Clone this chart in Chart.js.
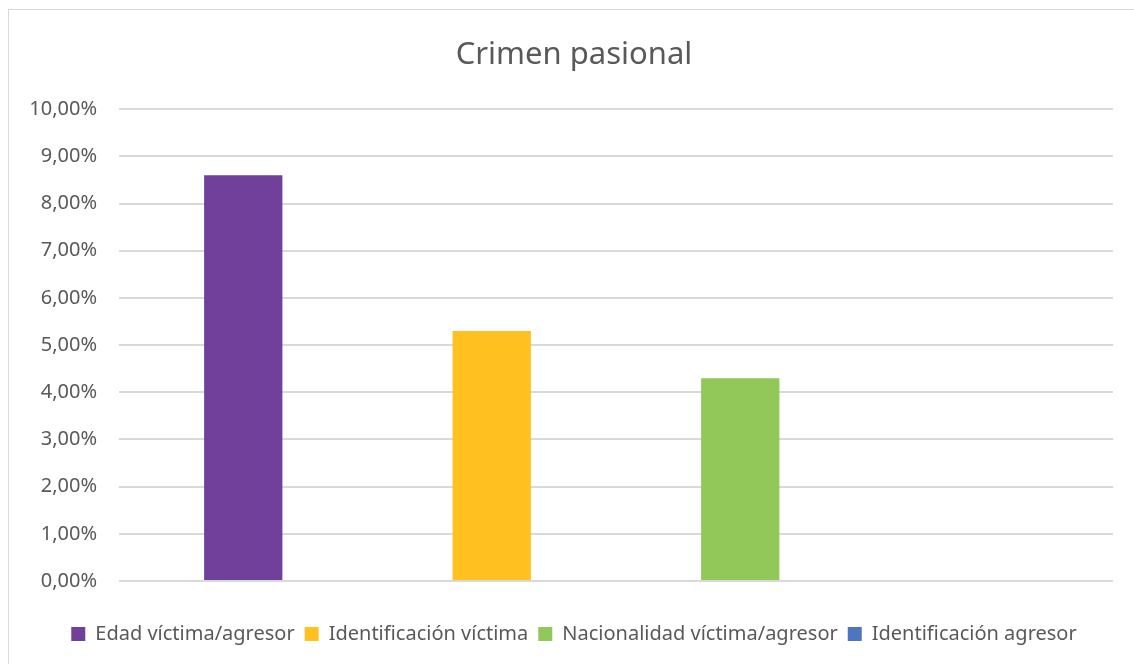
<!DOCTYPE html>
<html lang="es">
<head>
  <meta charset="UTF-8" />
  <title>Crimen pasional</title>
  <script src="https://cdn.jsdelivr.net/npm/chart.js"></script>
  <style>
    html, body { margin: 0; padding: 0; background: #fff; overflow: hidden; }
    .marco {
      position: absolute; left: 8px; top: 9px;
      width: 1132px; height: 664px;
      border: 1px solid #d9d9d9; box-sizing: border-box;
    }
    #grafico { display: block; }
  </style>
</head>
<body>
  <div class="marco">
    <canvas id="grafico" width="1130" height="658"></canvas>
  </div>

  <script>
  // datos
  const categorias = [''];
  const series = ['Edad víctima/agresor', 'Identificación víctima', 'Nacionalidad víctima/agresor', 'Identificación agresor'];
  const valores = [8.6, 5.3, 4.3, 0];
  const colores = ['#70409A', '#FFC020', '#92C85A', '#4E75C0'];
  const ticksY = [0, 1, 2, 3, 4, 5, 6, 7, 8, 9, 10];

  const fuente = "'Noto Sans', 'Open Sans', sans-serif";

  function formatoPct(v) {
    return v.toFixed(2).replace('.', ',') + '%';
  }

  new Chart(document.getElementById('grafico'), {
    type: 'bar',
    data: {
      labels: categorias,
      datasets: series.map((nombre, i) => ({
        label: nombre,
        data: [valores[i]],
        backgroundColor: colores[i],
        borderWidth: 0,
        categoryPercentage: 1,
        barPercentage: 0.315
      }))
    },
    options: {
      responsive: false,
      animation: false,
      layout: { padding: { left: 10, right: 10, top: 0, bottom: 14 } },
      plugins: {
        title: {
          display: true,
          text: 'Crimen pasional',
          color: '#595959',
          font: { family: fuente, size: 31, weight: 'normal' },
          padding: { top: 27, bottom: 35 }
        },
        legend: {
          position: 'bottom',
          labels: {
            color: '#595959',
            font: { family: fuente, size: 20 },
            boxWidth: 14,
            boxHeight: 14,
            padding: 10
          }
        },
        tooltip: { enabled: false }
      },
      scales: {
        x: {
          grid: { display: false },
          border: { display: false },
          ticks: { display: false },
          afterFit: s => { s.height = 33; }
        },
        y: {
          min: 0,
          max: 10,
          afterBuildTicks: axis => { axis.ticks = ticksY.map(v => ({ value: v })); },
          afterFit: s => { s.width = 100; },
          grid: { color: '#d9d9d9', lineWidth: 2, drawTicks: false },
          border: { display: false },
          ticks: {
            color: '#595959',
            font: { family: fuente, size: 20 },
            padding: 22,
            callback: v => formatoPct(v)
          }
        },
        // margen derecho vacío
        derecha: {
          position: 'right',
          grid: { display: false },
          border: { display: false },
          ticks: { display: false },
          afterFit: s => { s.width = 16; }
        }
      }
    }
  });
  </script>
</body>
</html>
